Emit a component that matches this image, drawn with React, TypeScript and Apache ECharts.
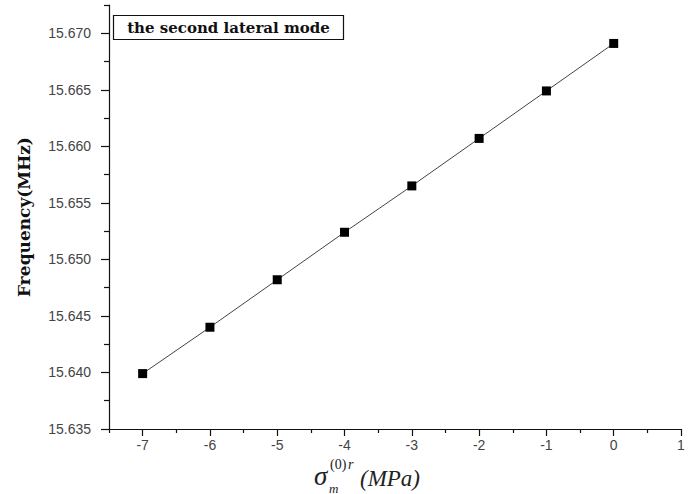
import React, { useEffect, useRef } from "react";
import * as echarts from "echarts";

const stress = [-7, -6, -5, -4, -3, -2, -1, 0];
const frequency = [15.6399, 15.644, 15.6482, 15.6524, 15.6565, 15.6607, 15.6649, 15.6691];
const xMajorTicks = [-7, -6, -5, -4, -3, -2, -1, 0, 1];
const xMinorTicks = [-7.5, -6.5, -5.5, -4.5, -3.5, -2.5, -1.5, -0.5, 0.5];
const yMajorTicks = [15.635, 15.64, 15.645, 15.65, 15.655, 15.66, 15.665, 15.67];
const yMinorTicks = [15.6375, 15.6425, 15.6475, 15.6525, 15.6575, 15.6625, 15.6675, 15.6725];
const titleText = "the second lateral mode";
const yName = "Frequency(MHz)";

export default function App() {
  const ref = useRef<HTMLDivElement>(null);
  useEffect(() => {
    if (!ref.current) return;
    const chart = echarts.init(ref.current, null, { renderer: "svg" });
    const xBase = { type: "value", min: -7.5, max: 1, scale: true };
    const yBase = { type: "value", min: 15.635, max: 15.6725, scale: true };
    const serif = "Liberation Serif";
    chart.setOption({
      animation: false,
      backgroundColor: "#ffffff",
      grid: { left: 109, right: 13, top: 5, bottom: 65 },
      xAxis: [
        {
          ...xBase,
          axisLine: { show: true, onZero: false, lineStyle: { color: "#111", width: 1.2 } },
          axisTick: { show: true, customValues: xMajorTicks, length: 7, lineStyle: { color: "#111", width: 1.2 } },
          axisLabel: {
            show: true,
            customValues: xMajorTicks,
            margin: 9,
            color: "#444",
            fontFamily: "Liberation Sans",
            fontSize: 14,
            formatter: (v: number) => String(Math.round(v)),
          },
          splitLine: { show: false },
        },
        {
          ...xBase,
          position: "bottom",
          axisLine: { show: false, onZero: false },
          axisTick: { show: true, customValues: xMinorTicks, length: 4, lineStyle: { color: "#111", width: 1.2 } },
          axisLabel: { show: false },
          splitLine: { show: false },
        },
      ],
      yAxis: [
        {
          ...yBase,
          name: yName,
          nameLocation: "middle",
          nameRotate: 90,
          nameGap: 77,
          nameTextStyle: { fontFamily: "DejaVu Serif", fontWeight: "bold", fontSize: 17, color: "#111" },
          axisLine: { show: true, onZero: false, lineStyle: { color: "#111", width: 1.2 } },
          axisTick: { show: true, customValues: yMajorTicks, length: 8, lineStyle: { color: "#111", width: 1.2 } },
          axisLabel: {
            show: true,
            customValues: yMajorTicks,
            margin: 18,
            color: "#444",
            fontFamily: "Liberation Sans",
            fontSize: 14,
            formatter: (v: number) => v.toFixed(3),
          },
          splitLine: { show: false },
        },
        {
          ...yBase,
          position: "left",
          axisLine: { show: false, onZero: false },
          axisTick: { show: true, customValues: yMinorTicks, length: 5, lineStyle: { color: "#111", width: 1.2 } },
          axisLabel: { show: false },
          splitLine: { show: false },
        },
      ],
      graphic: [
        {
          type: "rect",
          shape: { x: 113.5, y: 15.5, width: 230, height: 24 },
          style: { fill: "#fff", stroke: "#111", lineWidth: 1.2 },
          z: 10,
        },
        {
          type: "text",
          x: 228.5,
          y: 28,
          style: {
            text: titleText,
            fontFamily: "DejaVu Serif",
            fontWeight: "bold",
            fontSize: 15,
            fill: "#111",
            textAlign: "center",
            textVerticalAlign: "middle",
          },
          z: 11,
        },
        {
          type: "text",
          x: 314,
          y: 476,
          style: { text: "σ", fontFamily: serif, fontStyle: "italic", fontSize: 27, fill: "#222", textAlign: "left", textVerticalAlign: "middle" },
        },
        {
          type: "text",
          x: 330,
          y: 464,
          style: { text: "(0)", fontFamily: serif, fontSize: 14, fill: "#222", textAlign: "left", textVerticalAlign: "middle" },
        },
        {
          type: "text",
          x: 348,
          y: 464,
          style: { text: "r", fontFamily: serif, fontStyle: "italic", fontSize: 14, fill: "#222", textAlign: "left", textVerticalAlign: "middle" },
        },
        {
          type: "text",
          x: 329,
          y: 488,
          style: { text: "m", fontFamily: serif, fontStyle: "italic", fontSize: 13, fill: "#222", textAlign: "left", textVerticalAlign: "middle" },
        },
        {
          type: "text",
          x: 360,
          y: 478,
          style: { text: "(MPa)", fontFamily: serif, fontStyle: "italic", fontSize: 23, fill: "#222", textAlign: "left", textVerticalAlign: "middle" },
        },
      ],
      series: [
        {
          type: "line",
          xAxisIndex: 0,
          yAxisIndex: 0,
          data: stress.map((x, i) => [x, frequency[i]]),
          symbol: "rect",
          symbolSize: 9,
          itemStyle: { color: "#000" },
          lineStyle: { color: "#444", width: 1 },
          z: 5,
        },
      ],
    });
    return () => chart.dispose();
  }, []);
  return (
    <div
      ref={ref}
      style={{ position: "absolute", left: 0, top: 0, width: 694, height: 494, background: "#fff" }}
    />
  );
}
